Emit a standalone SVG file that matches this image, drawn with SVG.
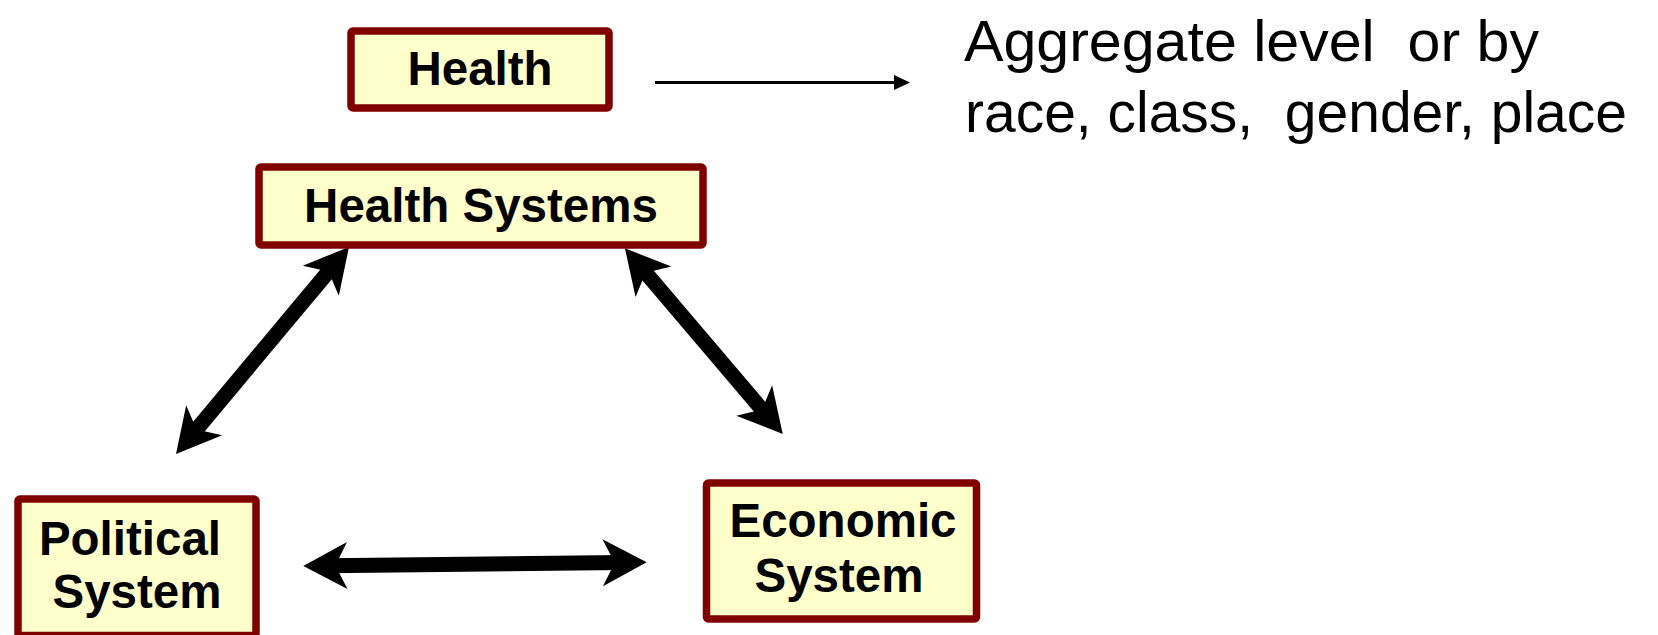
<svg xmlns="http://www.w3.org/2000/svg" width="1658" height="635" viewBox="0 0 1658 635">
  <style>
    .box { fill: #FFFFCC; stroke: #800000; stroke-width: 7.5; }
    .lbl { font-family: "Liberation Sans", Arial, sans-serif; font-weight: bold; font-size: 47.5px; fill: #000; text-anchor: middle; }
    .note { font-family: "Liberation Sans", Arial, sans-serif; font-size: 58px; fill: #000; }
    .thick { stroke: #000; stroke-width: 15; fill: none; marker-start: url(#bighead); marker-end: url(#bighead); }
    .thin { stroke: #000; stroke-width: 3; fill: none; marker-end: url(#smallhead); }
  </style>
  <defs>
    <marker id="bighead" markerUnits="userSpaceOnUse" viewBox="-20 -30 60 60" markerWidth="60" markerHeight="60" refX="8" refY="0" orient="auto-start-reverse" overflow="visible">
      <path d="M32,0 L-12,-23.5 L0,0 L-12,23.5 Z" fill="#000"/>
    </marker>
    <marker id="smallhead" markerUnits="userSpaceOnUse" viewBox="-10 -10 30 20" markerWidth="30" markerHeight="20" refX="0" refY="0" orient="auto" overflow="visible">
      <path d="M12,0 L-4,-7.5 L-4,7.5 Z" fill="#000"/>
    </marker>
  </defs>
  <rect width="1658" height="635" fill="#fff"/>

  <g id="connectors">
    <line class="thick" x1="191.4" y1="435.6" x2="333.6" y2="265.4"/>
    <line class="thick" x1="640.5" y1="266.6" x2="767.2" y2="415.7"/>
    <line class="thick" x1="327.3" y1="565.7" x2="622.7" y2="562.6"/>
    <line class="thin" x1="655" y1="82.5" x2="898" y2="82.5"/>
  </g>

  <g id="health">
    <rect class="box" x="351" y="31" width="258" height="77" rx="2"/>
    <text class="lbl" x="480" y="85">Health</text>
  </g>

  <g id="health-systems">
    <rect class="box" x="259" y="167" width="444" height="78" rx="2"/>
    <text class="lbl" x="481" y="222">Health Systems</text>
  </g>

  <g id="political-system">
    <rect class="box" x="18" y="499" width="238" height="136.5" rx="2"/>
    <text class="lbl" x="130" y="555">Political</text>
    <text class="lbl" x="137" y="608">System</text>
  </g>

  <g id="economic-system">
    <rect class="box" x="706.5" y="483" width="270" height="136" rx="2"/>
    <text class="lbl" x="843" y="537">Economic</text>
    <text class="lbl" x="839" y="592">System</text>
  </g>

  <g id="note">
    <text class="note" x="964" y="61" xml:space="preserve" textLength="575" lengthAdjust="spacingAndGlyphs">Aggregate level  or by</text>
    <text class="note" x="965" y="132" xml:space="preserve" textLength="662" lengthAdjust="spacingAndGlyphs">race, class,  gender, place</text>
  </g>
</svg>
